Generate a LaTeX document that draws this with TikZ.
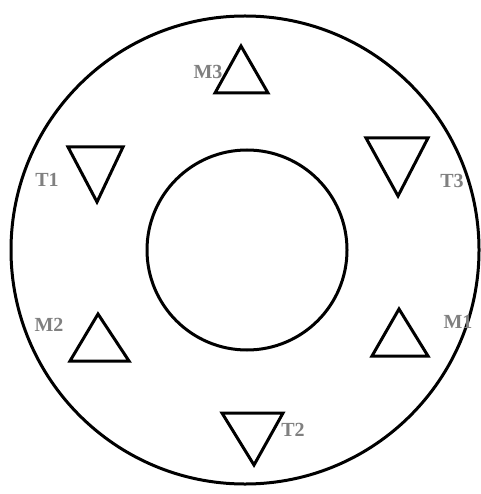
\documentclass[tikz,border=0pt]{standalone}
\usepackage{fontspec}
\setmainfont{Liberation Serif}
\begin{document}
\begin{tikzpicture}[x=1pt,y=-1pt,
  shape line/.style={line width=3pt, line join=miter, black},
  lbl/.style={text=black!50, font=\bfseries\fontsize{20}{20}\selectfont, inner sep=0pt}]
\useasboundingbox (0,0) rectangle (480,494);
\fill[white] (0,0) rectangle (480,494);
% circles
\draw[shape line] (245,250) circle[radius=234];
\draw[shape line] (247,250) circle[radius=100];
% upright triangles
\draw[shape line] (241,46) -- (268,93) -- (215,93) -- cycle;
\draw[shape line] (98,314) -- (129,361) -- (70,361) -- cycle;
\draw[shape line] (399,309) -- (428,356) -- (372,356) -- cycle;
% inverted triangles
\draw[shape line] (68,147) -- (123,147) -- (97,202) -- cycle;
\draw[shape line] (366,138) -- (428,138) -- (398,196) -- cycle;
\draw[shape line] (222,413) -- (283,413) -- (254,465) -- cycle;
% labels
\node[lbl] (m3) at (208,72) {M3};
\node[lbl] (t1) at (47,180) {T1};
\node[lbl] (t3) at (452,181) {T3};
\node[lbl] (m2) at (49,325) {M2};
\node[lbl] (m1) at (458,322) {M1};
\node[lbl] (t2) at (293,430) {T2};
\end{tikzpicture}
\end{document}
